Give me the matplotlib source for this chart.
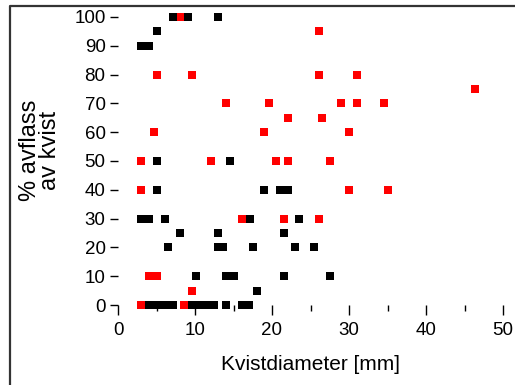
import matplotlib
matplotlib.use('Agg')
import matplotlib.pyplot as plt
from matplotlib.lines import Line2D

plt.rcParams['font.family'] = ['Liberation Sans', 'DejaVu Sans']

# Data (diameter in mm, % shed)
black_x = [7.1, 9.1, 13.0,
           5.1,
           3.0, 4.0,
           5.1, 14.5,
           5.1, 19.0, 21.0, 22.1,
           3.0, 4.0, 6.1, 17.1, 23.5,
           8.0, 13.0, 21.6,
           6.5, 13.0, 13.6, 17.5, 23.0, 25.5,
           10.1, 14.0, 15.1, 21.6, 27.5,
           18.0,
           4.0, 5.1, 6.1, 7.1, 9.6, 10.6, 11.6, 12.5, 14.0, 16.1, 17.0]
black_y = [100, 100, 100,
           95,
           90, 90,
           50, 50,
           40, 40, 40, 40,
           30, 30, 30, 30, 30,
           25, 25, 25,
           20, 20, 20, 20, 20, 20,
           10, 10, 10, 10, 10,
           5,
           0, 0, 0, 0, 0, 0, 0, 0, 0, 0, 0]

red_x = [8.1,
         26.1,
         5.1, 9.6, 26.1, 31.0,
         46.4,
         14.0, 19.6, 29.0, 31.0, 34.5,
         22.1, 26.5,
         4.7, 19.0, 30.0,
         3.0, 12.1, 20.5, 22.1, 27.5,
         3.0, 30.0, 35.0,
         16.1, 21.6, 26.1,
         4.0, 5.1,
         9.6,
         3.0, 8.6]
red_y = [100,
         95,
         80, 80, 80, 80,
         75,
         70, 70, 70, 70, 70,
         65, 65,
         60, 60, 60,
         50, 50, 50, 50, 50,
         40, 40, 40,
         30, 30, 30,
         10, 10,
         5,
         0, 0]

x_ticks = [0, 10, 20, 30, 40, 50]
x_minor = [5, 15, 25, 35, 45]
y_ticks = [0, 10, 20, 30, 40, 50, 60, 70, 80, 90, 100]

fig = plt.figure(figsize=(5.15, 3.85), dpi=100)
ax = fig.add_axes([118/515, 80/385, 385/515, 288/385])

ax.plot(red_x, red_y, 's', color='#ff0000', markersize=5.8, markeredgewidth=0, clip_on=False)
ax.plot(black_x, black_y, 's', color='#000000', markersize=5.8, markeredgewidth=0, clip_on=False)

ax.set_xlim(0, 50)
ax.set_ylim(0, 100)
for s in ax.spines.values():
    s.set_visible(False)

ax.set_xticks(x_ticks)
ax.set_xticks(x_minor, minor=True)
ax.set_yticks(y_ticks)
ax.tick_params(axis='x', which='major', direction='out', length=7, width=1, pad=5, labelsize=13.5)
ax.tick_params(axis='x', which='minor', direction='out', length=4, width=1)
ax.tick_params(axis='y', which='major', direction='out', length=6, width=1, pad=3, labelsize=13.5)

ax.set_xlabel('Kvistdiameter [mm]', fontsize=15, labelpad=12)
fig.text(40/515, 1 - 150/385, '% avflass\nav kvist', rotation=90, fontsize=17,
         ha='center', va='center', multialignment='center', linespacing=0.85)

# frame lines at the top and left edge
frame = Line2D([10/515, 10/515, 1.0], [0.0, 1 - 6/385, 1 - 6/385],
               transform=fig.transFigure, color='#333333', linewidth=1.6)
fig.add_artist(frame)

fig.savefig('out.png', dpi=100)
